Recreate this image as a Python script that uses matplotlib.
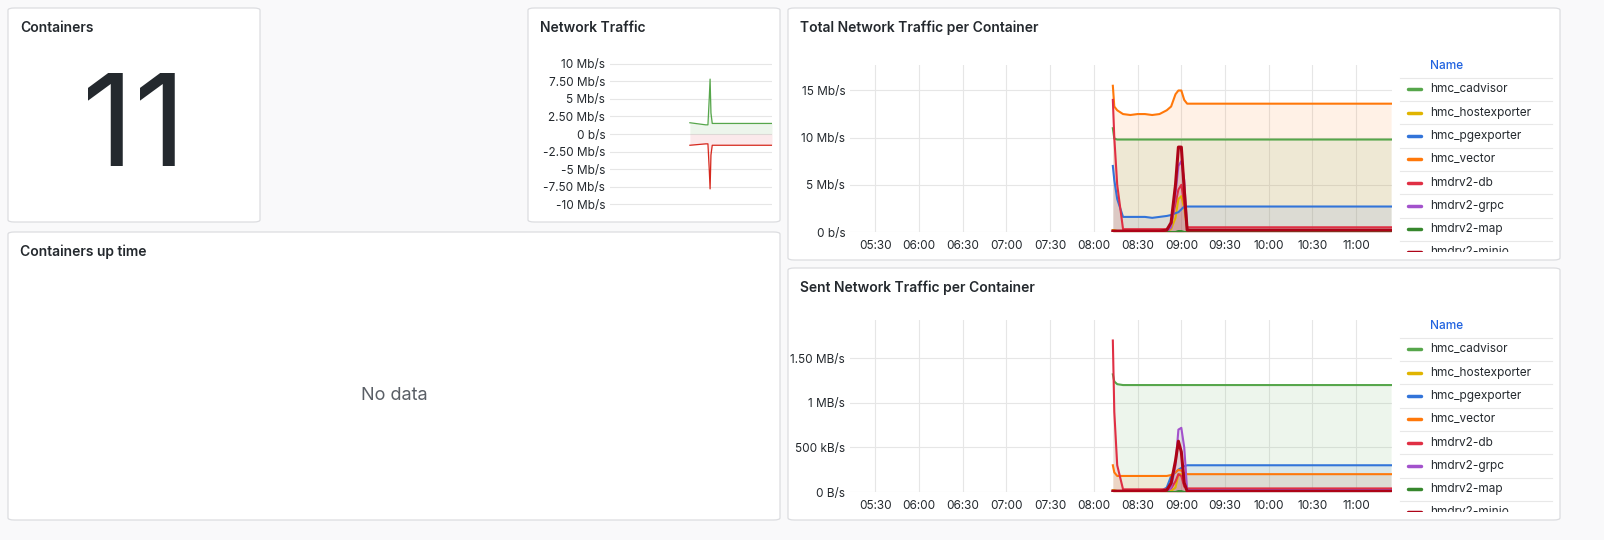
import matplotlib
matplotlib.use("Agg")
import matplotlib.pyplot as plt
from matplotlib.patches import FancyBboxPatch
from matplotlib.ticker import FuncFormatter
from matplotlib.transforms import Bbox

plt.rcParams['font.family'] = ['Inter', 'DejaVu Sans']

W, H = 1604, 540
# time in minutes after 08:00
t = [13, 14, 16, 20, 25, 30, 35, 40, 45, 50, 53, 56, 58, 60, 62, 64, 66, 70, 80, 90,
     100, 110, 120, 130, 140, 150, 160, 170, 180, 190, 200, 204]
names = ["hmc_cadvisor", "hmc_hostexporter", "hmc_pgexporter", "hmc_vector",
         "hmdrv2-db", "hmdrv2-grpc", "hmdrv2-map", "hmdrv2-minio"]
colors = ["#56A64B", "#E0B400", "#3274D9", "#FF780A", "#E02F44", "#A352CC", "#37872D", "#AD0317"]

total = {  # Mb/s
 "hmc_cadvisor":     [11, 9.9, 9.8, 9.8, 9.8, 9.8, 9.8, 9.8, 9.8, 9.8, 9.8, 9.8, 9.8, 9.8, 9.8, 9.8, 9.8, 9.8, 9.8, 9.8, 9.8, 9.8, 9.8, 9.8, 9.8, 9.8, 9.8, 9.8, 9.8, 9.8, 9.8, 9.8],
 "hmc_hostexporter": [0.2, 0.2, 0.1, 0.1, 0.1, 0.1, 0.1, 0.1, 0.1, 0.1, 0.3, 1.5, 3.5, 3.8, 2.5, 0.3, 0.2, 0.2, 0.2, 0.2, 0.2, 0.2, 0.2, 0.2, 0.2, 0.2, 0.2, 0.2, 0.2, 0.2, 0.2, 0.2],
 "hmc_pgexporter":   [7, 5.5, 3.5, 1.6, 1.6, 1.6, 1.6, 1.5, 1.6, 1.7, 1.8, 2.0, 2.1, 2.4, 2.7, 2.7, 2.7, 2.7, 2.7, 2.7, 2.7, 2.7, 2.7, 2.7, 2.7, 2.7, 2.7, 2.7, 2.7, 2.7, 2.7, 2.7],
 "hmc_vector":       [15.5, 13.3, 12.9, 12.5, 12.4, 12.5, 12.5, 12.4, 12.5, 12.9, 13.3, 14.6, 15.0, 15.0, 14.0, 13.6, 13.6, 13.6, 13.6, 13.6, 13.6, 13.6, 13.6, 13.6, 13.6, 13.6, 13.6, 13.6, 13.6, 13.6, 13.6, 13.6],
 "hmdrv2-db":        [14, 10, 5, 0.3, 0.3, 0.3, 0.3, 0.3, 0.3, 0.3, 0.8, 3.0, 4.5, 5.0, 3.0, 0.5, 0.5, 0.5, 0.5, 0.5, 0.5, 0.5, 0.5, 0.5, 0.5, 0.5, 0.5, 0.5, 0.5, 0.5, 0.5, 0.5],
 "hmdrv2-grpc":      [0, 0, 0, 0, 0, 0, 0, 0, 0, 0, 0.5, 4, 7, 7.5, 5.5, 0.3, 0.2, 0.2, 0.2, 0.2, 0.2, 0.2, 0.2, 0.2, 0.2, 0.2, 0.2, 0.2, 0.2, 0.2, 0.2, 0.2],
 "hmdrv2-map":       [0, 0, 0, 0, 0, 0, 0, 0, 0, 0, 0, 0, 0.1, 0.1, 0, 0, 0, 0, 0, 0, 0, 0, 0, 0, 0, 0, 0, 0, 0, 0, 0, 0],
 "hmdrv2-minio":     [0.1, 0.1, 0.1, 0.1, 0.1, 0.1, 0.1, 0.1, 0.1, 0.2, 1.0, 5.0, 9.0, 9.0, 4.5, 0.2, 0.2, 0.2, 0.2, 0.2, 0.2, 0.2, 0.2, 0.2, 0.2, 0.2, 0.2, 0.2, 0.2, 0.2, 0.2, 0.2],
}
sent = {  # MB/s
 "hmc_cadvisor":     [1.32, 1.24, 1.21, 1.2, 1.2, 1.2, 1.2, 1.2, 1.2, 1.2, 1.2, 1.2, 1.2, 1.2, 1.2, 1.2, 1.2, 1.2, 1.2, 1.2, 1.2, 1.2, 1.2, 1.2, 1.2, 1.2, 1.2, 1.2, 1.2, 1.2, 1.2, 1.2],
 "hmc_hostexporter": [0.02, 0.02, 0.01, 0.01, 0.01, 0.01, 0.01, 0.01, 0.01, 0.01, 0.01, 0.05, 0.2, 0.2, 0.1, 0.01, 0.01, 0.01, 0.01, 0.01, 0.01, 0.01, 0.01, 0.01, 0.01, 0.01, 0.01, 0.01, 0.01, 0.01, 0.01, 0.01],
 "hmc_pgexporter":   [0, 0, 0, 0, 0, 0, 0, 0, 0, 0.05, 0.18, 0.22, 0.25, 0.27, 0.29, 0.3, 0.3, 0.3, 0.3, 0.3, 0.3, 0.3, 0.3, 0.3, 0.3, 0.3, 0.3, 0.3, 0.3, 0.3, 0.3, 0.3],
 "hmc_vector":       [0.3, 0.22, 0.18, 0.18, 0.18, 0.18, 0.18, 0.18, 0.18, 0.18, 0.19, 0.22, 0.25, 0.24, 0.21, 0.2, 0.2, 0.2, 0.2, 0.2, 0.2, 0.2, 0.2, 0.2, 0.2, 0.2, 0.2, 0.2, 0.2, 0.2, 0.2, 0.2],
 "hmdrv2-db":        [1.7, 0.9, 0.3, 0.03, 0.03, 0.03, 0.03, 0.03, 0.03, 0.03, 0.04, 0.12, 0.2, 0.18, 0.06, 0.04, 0.04, 0.04, 0.04, 0.04, 0.04, 0.04, 0.04, 0.04, 0.04, 0.04, 0.04, 0.04, 0.04, 0.04, 0.04, 0.04],
 "hmdrv2-grpc":      [0, 0, 0, 0, 0, 0, 0, 0, 0, 0, 0.05, 0.3, 0.7, 0.72, 0.5, 0.02, 0.02, 0.02, 0.02, 0.02, 0.02, 0.02, 0.02, 0.02, 0.02, 0.02, 0.02, 0.02, 0.02, 0.02, 0.02, 0.02],
 "hmdrv2-map":       [0, 0, 0, 0, 0, 0, 0, 0, 0, 0, 0, 0, 0.01, 0.01, 0, 0, 0, 0, 0, 0, 0, 0, 0, 0, 0, 0, 0, 0, 0, 0, 0, 0],
 "hmdrv2-minio":     [0.01, 0.01, 0.01, 0.01, 0.01, 0.01, 0.01, 0.01, 0.01, 0.02, 0.1, 0.35, 0.57, 0.45, 0.1, 0.01, 0.01, 0.01, 0.01, 0.01, 0.01, 0.01, 0.01, 0.01, 0.01, 0.01, 0.01, 0.01, 0.01, 0.01, 0.01, 0.01],
}
net_t = [13, 50, 55, 58, 60, 62, 65, 70, 100, 150, 204]
net_rx = [1.6, 1.3, 1.3, 5.0, 7.8, 3.0, 1.5, 1.5, 1.5, 1.5, 1.5]
net_tx = [-1.6, -1.4, -1.4, -5.0, -7.8, -3.0, -1.6, -1.6, -1.6, -1.6, -1.6]

xticks = [5.5 + 0.5 * i for i in range(12)]
XL = (5.21, 11.41)

fig = plt.figure(figsize=(W / 100, H / 100), dpi=100)
fig.patch.set_facecolor("#F9F9FA")

def fx(x): return x / W
def fy(y): return 1 - y / H

def panel(x0, y0, x1, y1, title):
    p = FancyBboxPatch((fx(x0), fy(y1)), fx(x1 - x0), (y1 - y0) / H,
                       boxstyle="round,pad=0,rounding_size=0.004", transform=fig.transFigure,
                       facecolor="white", edgecolor="#DCDDE0", lw=0.9, zorder=-5)
    fig.patches.append(p)
    fig.text(fx(x0 + 12), fy(y0 + 20), title, fontsize=10, fontweight="semibold",
             color="#24292E", va="center")

def axpx(x0, y0, x1, y1):
    a = fig.add_axes([fx(x0), fy(y1), fx(x1 - x0), (y1 - y0) / H])
    a.set_facecolor("none")
    a.set_zorder(2)
    return a

def hours(tt): return [8 + v / 60 for v in tt]

def style(ax):
    for s in ax.spines.values():
        s.set_visible(False)
    ax.tick_params(length=0, labelsize=8.5, colors="#24292E")
    ax.grid(True, color="#E6E6E6", lw=0.8)
    ax.set_axisbelow(True)

def tfmt(v, p):
    h = int(v); m = int(round((v - h) * 60))
    return f"{h:02d}:{m:02d}"

panel(8, 8, 260, 222, "Containers")
fig.text(fx(134), fy(133), "11", fontsize=92, color="#24292E", ha="center", va="center")

panel(528, 8, 780, 222, "Network Traffic")
ax = axpx(610, 58, 772, 210)
style(ax)
ax.grid(axis="x", visible=False)
th = hours(net_t)
ax.plot(th, net_rx, color="#56A64B", lw=0.9)
ax.fill_between(th, net_rx, 0, color="#56A64B", alpha=0.1, lw=0)
ax.plot(th, net_tx, color="#D6291E", lw=0.9)
ax.fill_between(th, net_tx, 0, color="#E02F44", alpha=0.1, lw=0)
ax.set_xlim(5.12, 11.4)
ax.set_ylim(-10.8, 10.8)
ax.set_yticks([10, 7.5, 5, 2.5, 0, -2.5, -5, -7.5, -10])
ax.yaxis.set_major_formatter(FuncFormatter(lambda v, p: "0 b/s" if v == 0 else (f"{v:g} Mb/s" if v == int(v) else f"{v:.2f} Mb/s")))
ax.set_xticks([])

panel(8, 232, 780, 520, "Containers up time")
fig.text(fx(394), fy(395), "No data", fontsize=13, color="#5A5F66", ha="center", va="center")

def ts_panel(y0, y1, title, data, ylim, yticks, ylabels, top, bottom):
    panel(788, y0, 1560, y1, title)
    ax = axpx(850, top, 1392, bottom)
    style(ax)
    th = hours(t)
    for n, c in zip(names, colors):
        lw = 2.2 if n == "hmdrv2-minio" else 1.5
        ax.plot(th, data[n], color=c, lw=lw)
        ax.fill_between(th, data[n], 0, color=c, alpha=0.1, lw=0)
    ax.set_xlim(*XL)
    ax.set_ylim(*ylim)
    ax.set_xticks(xticks)
    ax.xaxis.set_major_formatter(FuncFormatter(tfmt))
    ax.set_yticks(yticks)
    ax.set_yticklabels(ylabels)
    ax.tick_params(axis="x", pad=6)
    ly = y0 + 58
    fig.text(fx(1430), fy(ly), "Name", fontsize=8.5, color="#1F62E0", fontweight="medium", va="center")
    clip = Bbox([[fx(1400), fy(y1 - 8)], [fx(1560), fy(y0)]]).transformed(fig.transFigure)
    for i, (n, c) in enumerate(zip(names, colors)):
        yy = ly + 23.3 * (i + 1)
        fig.add_artist(plt.Line2D([fx(1400), fx(1552)], [fy(yy - 11.6)] * 2, color="#E8E8E8", lw=0.8))
        mk = plt.Line2D([fx(1408), fx(1421)], [fy(yy)] * 2, color=c, lw=2.5, solid_capstyle="round")
        mk.set_clip_box(clip)
        fig.add_artist(mk)
        tx = fig.text(fx(1430), fy(yy), n, fontsize=8.5, color="#24292E", va="center")
        tx.set_clip_on(True)
        tx.set_clip_box(clip)

ts_panel(8, 260, "Total Network Traffic per Container", total, (0, 17.7),
         [0, 5, 10, 15], ["0 b/s", "5 Mb/s", "10 Mb/s", "15 Mb/s"], 65, 232)
ts_panel(268, 520, "Sent Network Traffic per Container", sent, (0, 1.93),
         [0, 0.5, 1, 1.5], ["0 B/s", "500 kB/s", "1 MB/s", "1.50 MB/s"], 320, 492)

fig.savefig("out.png", dpi=100, facecolor=fig.get_facecolor())
